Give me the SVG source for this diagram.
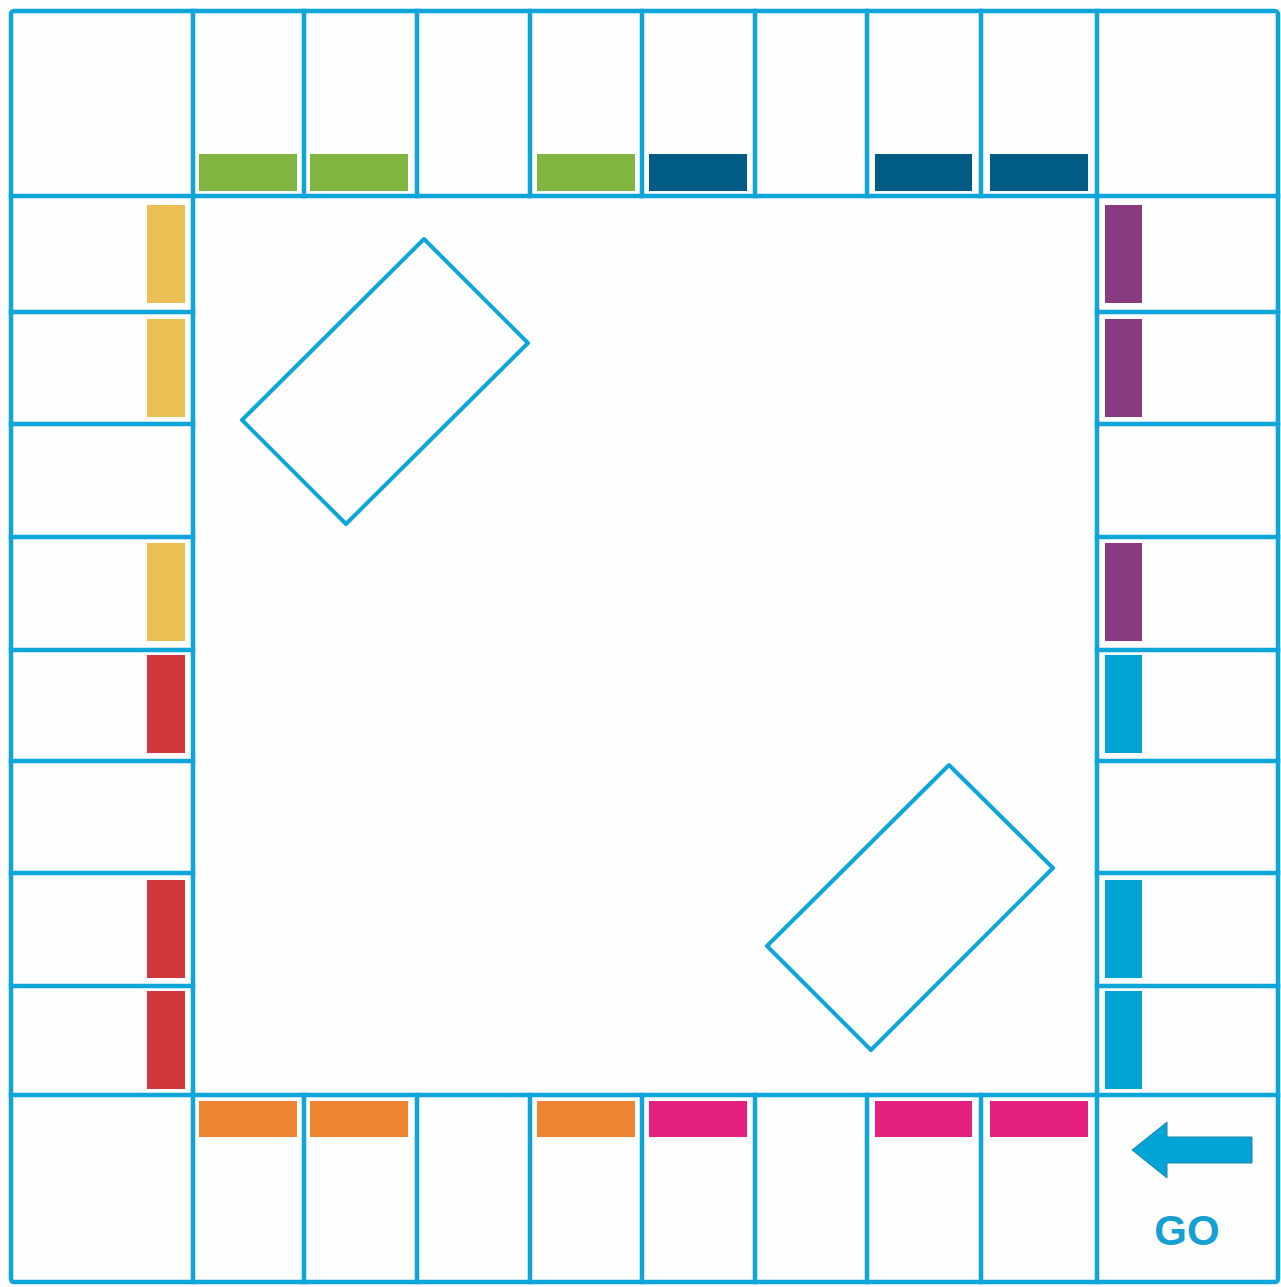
<svg xmlns="http://www.w3.org/2000/svg" width="1281" height="1287" viewBox="0 0 1281 1287">
<style>
.ln{stroke:#0ea5d9;stroke-width:4.5;fill:none;stroke-linejoin:round;stroke-linecap:square}
.card{stroke:#0ea5d9;stroke-width:4;fill:none;stroke-linejoin:round}
.g{fill:#80b541}.db{fill:#005b85}.o{fill:#ee8432}.m{fill:#e5207f}
.y{fill:#ecbf54}.r{fill:#d2373d}.p{fill:#883b80}.c{fill:#00a4d5}
</style>
<rect x="0" y="0" width="1281" height="1287" fill="#fefefe"/>
<g id="grid">
<rect class="ln" x="11" y="11" width="1267" height="1271" rx="3"/>
<rect class="ln" x="193" y="196" width="904" height="899"/>
<path class="ln" d="M304 11V196M417 11V196M530 11V196M642 11V196M755 11V196M867 11V196M981 11V196
M304 1095V1282M417 1095V1282M530 1095V1282M642 1095V1282M755 1095V1282M867 1095V1282M981 1095V1282
M193 11V196M1097 11V196M193 1095V1282M1097 1095V1282
M11 196H193M1097 196H1278M11 1095H193M1097 1095H1278
M11 312H193M11 424H193M11 537H193M11 650H193M11 761H193M11 873H193M11 986H193
M1097 312H1278M1097 424H1278M1097 537H1278M1097 650H1278M1097 761H1278M1097 873H1278M1097 986H1278"/>
</g>
<g id="top-bars">
<rect class="g" x="199" y="154" width="98" height="37"/>
<rect class="g" x="310" y="154" width="98" height="37"/>
<rect class="g" x="537" y="154" width="98" height="37"/>
<rect class="db" x="649" y="154" width="98" height="37"/>
<rect class="db" x="875" y="154" width="97" height="37"/>
<rect class="db" x="990" y="154" width="98" height="37"/>
</g>
<g id="bottom-bars">
<rect class="o" x="199" y="1101" width="98" height="36"/>
<rect class="o" x="310" y="1101" width="98" height="36"/>
<rect class="o" x="537" y="1101" width="98" height="36"/>
<rect class="m" x="649" y="1101" width="98" height="36"/>
<rect class="m" x="875" y="1101" width="97" height="36"/>
<rect class="m" x="990" y="1101" width="98" height="36"/>
</g>
<g id="left-bars">
<rect class="y" x="147" y="205" width="38" height="98"/>
<rect class="y" x="147" y="319" width="38" height="98"/>
<rect class="y" x="147" y="543" width="38" height="98"/>
<rect class="r" x="147" y="655" width="38" height="98"/>
<rect class="r" x="147" y="880" width="38" height="98"/>
<rect class="r" x="147" y="991" width="38" height="98"/>
</g>
<g id="right-bars">
<rect class="p" x="1105" y="205" width="37" height="98"/>
<rect class="p" x="1105" y="319" width="37" height="98"/>
<rect class="p" x="1105" y="543" width="37" height="98"/>
<rect class="c" x="1105" y="655" width="37" height="98"/>
<rect class="c" x="1105" y="880" width="37" height="98"/>
<rect class="c" x="1105" y="991" width="37" height="98"/>
</g>
<g id="card-1"><polygon class="card" points="424,239 528,343 346,524 242,420"/></g>
<g id="card-2"><polygon class="card" points="949,765 1053,868 871,1050 767,946"/></g>
<g id="go">
<polygon points="1132,1150 1167,1122 1167,1137 1252,1137 1252,1163 1167,1163 1167,1178" fill="#00a4d5" stroke="#2a7fa6" stroke-width="1" stroke-linejoin="round"/>
<text x="1187" y="1245" text-anchor="middle" font-family="Liberation Sans, Arial, sans-serif" font-weight="bold" font-size="42" fill="#14a0d3">GO</text>
</g>
</svg>
